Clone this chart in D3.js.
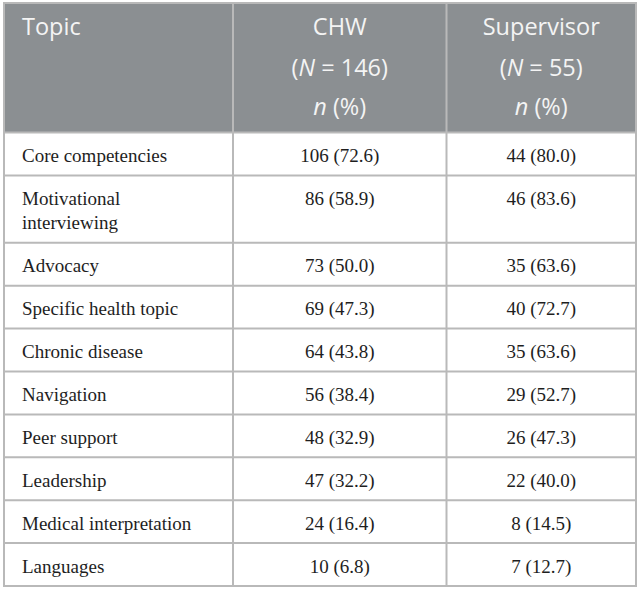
<!DOCTYPE html>
<html>
<head>
<meta charset="utf-8">
<script src="https://cdn.jsdelivr.net/npm/d3@7"></script>
<style>
  body { margin: 0; background: #fff; }
</style>
</head>
<body>
<div id="table"></div>
<script>
// Table values
const topics = ["Core competencies", "Motivational interviewing", "Advocacy", "Specific health topic",
  "Chronic disease", "Navigation", "Peer support", "Leadership", "Medical interpretation", "Languages"];
const chwN = [106, 86, 73, 69, 64, 56, 48, 47, 24, 10];
const chwPct = ["72.6", "58.9", "50.0", "47.3", "43.8", "38.4", "32.9", "32.2", "16.4", "6.8"];
const supN = [44, 46, 35, 40, 35, 29, 26, 22, 8, 7];
const supPct = ["80.0", "83.6", "63.6", "72.7", "63.6", "52.7", "47.3", "40.0", "14.5", "12.7"];
const groups = ["CHW", "Supervisor"];
const groupN = [146, 55];

const width = 639, height = 590;
const tLeft = 4, tRight = 636, tTop = 3, headerBottom = 132.5;
const lineGap = 24.5, rowBase = 42.9, maxLabel = 185;
const border = "#b9b9b9";

const svg = d3.select("#table")
    .append("svg")
    .attr("width", width)
    .attr("height", height);

// columns: topic | CHW | Supervisor
const colEdges = [tLeft, 233, 446.5, tRight];
const colX = d3.scaleOrdinal().domain(["topic", "chw", "sup"]).range(colEdges.slice(0, 3));
const colW = d => colEdges[colX.domain().indexOf(d) + 1] - colX(d);
const colMid = d => colX(d) + colW(d) / 2;

// header
svg.append("rect")
    .attr("x", tLeft).attr("y", tTop)
    .attr("width", tRight - tLeft).attr("height", headerBottom - tTop)
    .attr("fill", "#8b8f92");

const head = svg.append("g")
    .attr("font-family", "'Open Sans', sans-serif")
    .attr("font-size", 23.5)
    .attr("fill", "#f4f4f4");

head.append("text").attr("x", 22).attr("y", 35).text("Topic");

["chw", "sup"].forEach((c, i) => {
  const x = colMid(c);
  head.append("text").attr("x", x).attr("y", 35).attr("text-anchor", "middle").text(groups[i]);
  const t2 = head.append("text").attr("x", x).attr("y", 75.5).attr("text-anchor", "middle");
  t2.append("tspan").text("(");
  t2.append("tspan").attr("font-style", "italic").text("N");
  t2.append("tspan").text(` = ${groupN[i]})`);
  const t3 = head.append("text").attr("x", x).attr("y", 115).attr("text-anchor", "middle");
  t3.append("tspan").attr("font-style", "italic").text("n");
  t3.append("tspan").text(" (%)");
});

// body
const body = svg.append("g")
    .attr("font-family", "'Liberation Serif', 'Times New Roman', serif")
    .attr("font-size", 19)
    .attr("fill", "#1e1e1e");

// wrap topic labels to get line counts
const labelLines = topics.map(t => {
  const words = t.split(" ");
  const probe = body.append("text");
  const lines = [];
  let cur = [];
  words.forEach(w => {
    probe.text([...cur, w].join(" "));
    if (cur.length && probe.node().getComputedTextLength() > maxLabel) {
      lines.push(cur.join(" "));
      cur = [w];
    } else cur.push(w);
  });
  lines.push(cur.join(" "));
  probe.remove();
  return lines;
});

const rowH = labelLines.map(l => rowBase + (l.length - 1) * lineGap);
const rowTop = [headerBottom, ...d3.cumsum(rowH).map(v => headerBottom + v)];
const tBottom = rowTop[rowTop.length - 1];

const rows = body.selectAll("g.row")
    .data(topics)
    .join("g")
    .attr("class", "row")
    .attr("transform", (d, i) => `translate(0,${rowTop[i] + 29.5})`);

rows.append("text")
    .attr("x", 22)
    .selectAll("tspan")
    .data((d, i) => labelLines[i])
    .join("tspan")
    .attr("x", 22)
    .attr("y", (d, j) => j * lineGap)
    .text(d => d);

rows.append("text")
    .attr("x", colMid("chw"))
    .attr("text-anchor", "middle")
    .text((d, i) => `${chwN[i]} (${chwPct[i]})`);

rows.append("text")
    .attr("x", colMid("sup"))
    .attr("text-anchor", "middle")
    .text((d, i) => `${supN[i]} (${supPct[i]})`);

// grid lines
const grid = svg.append("g").attr("stroke", border).attr("stroke-width", 2).attr("fill", "none");

grid.selectAll("line.h")
    .data(rowTop.slice(0, -1))
    .join("line")
    .attr("class", "h")
    .attr("x1", tLeft).attr("x2", tRight)
    .attr("y1", d => d).attr("y2", d => d);

grid.selectAll("line.v")
    .data(colEdges.slice(1, 3))
    .join("line")
    .attr("class", "v")
    .attr("x1", d => d).attr("x2", d => d)
    .attr("y1", tTop).attr("y2", tBottom);

grid.append("rect")
    .attr("x", tLeft).attr("y", tTop)
    .attr("width", tRight - tLeft).attr("height", tBottom - tTop);
</script>
</body>
</html>
